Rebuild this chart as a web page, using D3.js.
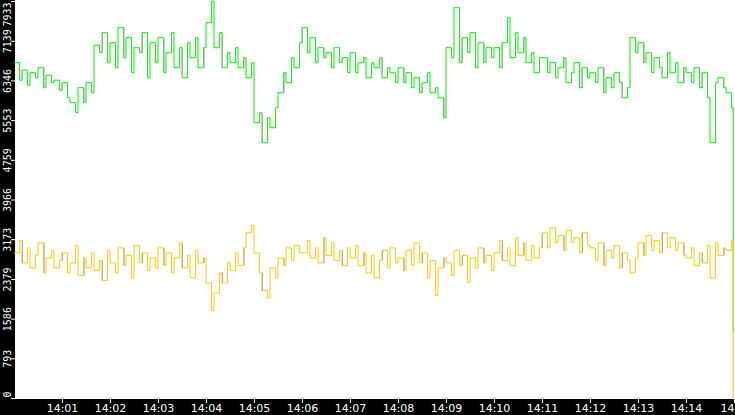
<!DOCTYPE html><html><head><meta charset="utf-8">
<script src="https://cdn.jsdelivr.net/npm/d3@7"></script>
<style>body{margin:0;background:#fff}svg{display:block}</style></head><body>
<svg id="c" width="735" height="415"></svg>
<script>
const yTicks=[0,793,1586,2379,3173,3966,4759,5553,6346,7139,7933];
const xTickLabels=["14:01","14:02","14:03","14:04","14:05","14:06","14:07","14:08","14:09","14:10","14:11","14:12","14:13","14:14","14"];
const green=[6700,6350,6550,6250,6500,6400,6600,6200,6450,6300,6350,6150,
6300,6000,5900,5700,6200,5900,6300,6100,7050,6900,7300,6700,
7100,6600,7400,6800,7200,6500,7000,6900,7300,6400,7100,6700,
7200,6500,6900,7300,6600,7000,6400,7100,6800,7200,6600,7000,
7500,7933,7000,7300,6600,6900,6700,7000,6600,6800,6400,6700,
5500,5700,5100,5600,5400,5800,6100,6500,6300,6800,6600,7100,
7400,6900,7200,6700,7000,6800,6900,6600,7000,6700,6800,6500,
6900,6500,6700,6800,6400,6700,6600,6800,6400,6600,6500,6300,
6600,6300,6500,6200,6400,6100,6300,6500,6100,6200,6000,5600,
7000,6800,7800,6700,7200,6900,7300,6600,7100,6700,7000,6800,
7000,6600,7100,7600,6800,7300,6900,7200,6700,6900,6500,6800,
6800,6500,6700,6400,6600,6800,6300,6500,6700,6200,6600,6400,
6500,6300,6600,6100,6400,6200,6500,6300,6000,6200,7200,6900,
7100,6700,6900,6500,6800,6600,6400,6900,6500,6700,6300,6600,
6500,6300,6600,6200,6500,6000,5100,6300,6400,6200,6100,5800,1300];
const yellow=[2900,3150,2700,3000,2600,2850,3100,2500,2800,2950,2600,2750,
2900,2500,2700,3050,2450,2800,2600,2900,2550,2750,2350,2950,
2700,2500,3000,2650,2850,2400,3050,2700,2900,2550,2800,2600,
3000,2650,2900,2500,2800,3100,2600,2850,2400,2950,2700,2800,
2300,1750,2100,2500,2300,2700,2550,2900,2650,3000,3300,3450,
2900,2500,2150,2000,2600,2400,2800,2650,3000,2750,3050,2900,
2900,3150,2800,3000,2700,3200,2850,3100,2750,2950,2650,3000,
2800,3050,2650,2900,2500,2850,2400,2750,2950,2600,3000,2700,
2800,2550,2950,2650,3100,2700,2900,2400,2750,2050,2600,2800,
2700,2450,2950,2650,2850,2300,2800,2600,3000,2700,2850,2550,
2900,3150,2750,3000,2650,3200,2850,3100,2750,3050,2800,3000,
3300,3000,3400,3100,3250,2950,3350,3100,3200,2900,3300,3050,
3000,2750,3100,2650,2950,2800,3050,2600,2900,2750,2500,2800,
3100,2850,3250,2950,3150,2900,3300,3000,3200,2950,3100,2850,
2800,3000,2650,2900,2700,3050,2400,3100,2850,3000,2950,3150,0];
const svg=d3.select("#c");
const x=d3.scaleLinear().domain([0,900]).range([14,734]);
const y=d3.scaleLinear().domain([0,7933]).range([398,1]);
svg.append("rect").attr("x",0).attr("y",0).attr("width",15).attr("height",415).attr("fill","#000");
svg.append("rect").attr("x",0).attr("y",399).attr("width",735).attr("height",16).attr("fill","#000");
const xt=i=>x(Math.min(i*5+ (i%2?2:0),899));
const line=d3.line().x((d,i)=>xt(i)).y(d=>y(d)).curve(d3.curveStepAfter);
[[green,"#00ee00"],[yellow,"#ffc800"]].forEach(([s,c])=>{
 svg.append("path").datum(s).attr("d",line).attr("fill","none").attr("stroke",c).attr("stroke-width",1);
 s.forEach((v,i)=>{if(i>0&&i%5==2){const pv=s[i-1];svg.append("line").attr("x1",xt(i)+0.5).attr("x2",xt(i)+0.5).attr("y1",y(pv)).attr("y2",y(v)).attr("stroke","#aaa").attr("stroke-width",1);}});
});
const ya=d3.axisLeft(y).tickValues(yTicks).tickSize(4).tickFormat(d3.format("d"));
const gy=svg.append("g").attr("transform","translate(15,0)").call(ya);
gy.select(".domain").remove();
gy.selectAll("line").attr("stroke","#fff");
gy.selectAll("text").attr("fill","#fff").attr("font-family","DejaVu Sans Mono").attr("font-size",10)
 .attr("text-anchor",d=>d===7933?"end":d===0?"start":"middle").attr("x",0).attr("dy",0)
 .attr("transform",d=>`translate(-8,${d===7933?1:d===0?-1:0}) rotate(-90)`).attr("dominant-baseline","central").attr("y",0);
const xa=d3.axisBottom(x).tickValues(d3.range(60,901,60)).tickSize(4).tickFormat((d,i)=>xTickLabels[i]);
const gx=svg.append("g").attr("transform","translate(0,399)").call(xa);
gx.select(".domain").remove();
gx.selectAll("line").attr("stroke","#fff");
gx.selectAll("text").attr("fill","#fff").attr("font-family","DejaVu Sans").attr("font-size",11).attr("dy","0.55em")
 .attr("text-anchor",d=>d===900?"end":"middle");
</script></body></html>
